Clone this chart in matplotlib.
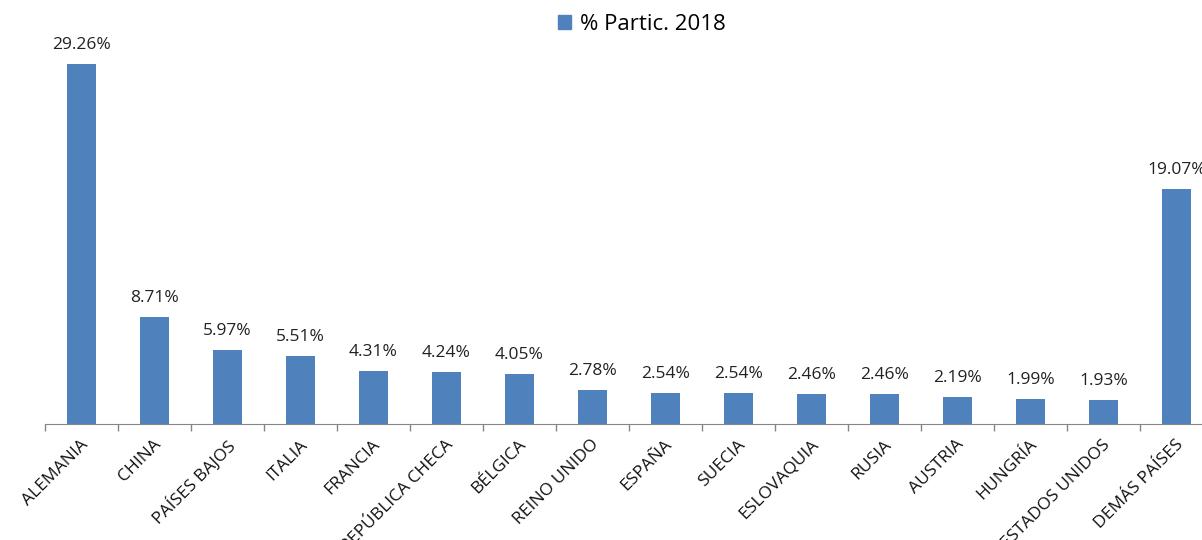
import matplotlib.pyplot as plt
from matplotlib.patches import Patch

paises = ['ALEMANIA', 'CHINA', 'PAÍSES BAJOS', 'ITALIA', 'FRANCIA', 'REPÚBLICA CHECA',
          'BÉLGICA', 'REINO UNIDO', 'ESPAÑA', 'SUECIA', 'ESLOVAQUIA', 'RUSIA',
          'AUSTRIA', 'HUNGRÍA', 'ESTADOS UNIDOS', 'DEMÁS PAÍSES']
partic = [29.26, 8.71, 5.97, 5.51, 4.31, 4.24, 4.05, 2.78, 2.54, 2.54, 2.46, 2.46,
          2.19, 1.99, 1.93, 19.07]

plt.rcParams['font.family'] = ['Open Sans', 'DejaVu Sans']

fig = plt.figure(figsize=(12.02, 5.4), dpi=100)
ax = fig.add_axes([45 / 1202, 116 / 540, 1168 / 1202, 394 / 540])

x = range(len(paises))
bars = ax.bar(x, partic, width=0.4, color='#4F81BD')
ax.set_xlim(-0.5, len(paises) - 0.5)
ax.set_ylim(0, 32)

for b, v in zip(bars, partic):
    ax.annotate('%.2f%%' % v, (b.get_x() + b.get_width() / 2, v),
                xytext=(0, 8), textcoords='offset points',
                ha='center', va='bottom', fontsize=12.5, color='#222222')

ax.set_xticks([i - 0.5 for i in range(len(paises) + 1)])
ax.set_xticklabels([])
ax.set_xticks([i - 0.02 for i in x], minor=True)
ax.set_xticklabels(paises, minor=True, rotation=45, ha='right', va='top',
                   rotation_mode='anchor', fontsize=12.5, color='#111111')
ax.tick_params(axis='x', which='minor', length=0, pad=9)
ax.tick_params(axis='x', which='major', length=5, color='#868686', width=1)
ax.set_yticks([])
for s in ['top', 'right', 'left']:
    ax.spines[s].set_visible(False)
ax.spines['bottom'].set_color('#868686')

fig.legend(handles=[Patch(color='#4F81BD', label='% Partic. 2018')],
           loc='upper center', bbox_to_anchor=(0.534, 1.012), frameon=False,
           fontsize=16, handlelength=0.6, handleheight=0.6, handletextpad=0.4)

fig.savefig('out.png', dpi=100)
